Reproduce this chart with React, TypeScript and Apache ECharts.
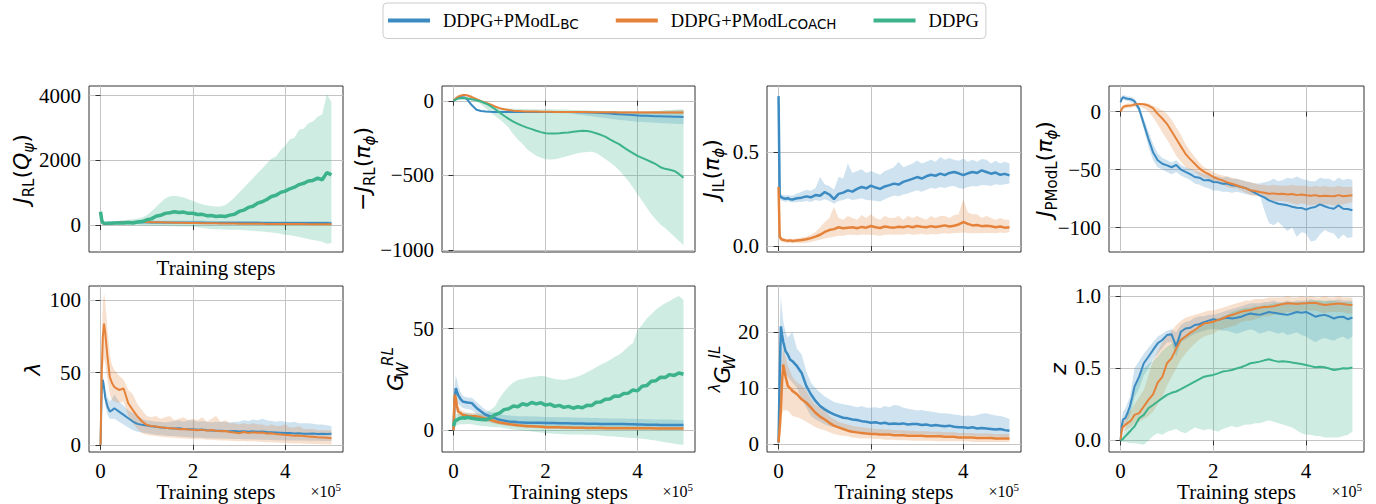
import React, { useEffect, useRef } from 'react';
import * as echarts from 'echarts';

const BLUE = '#3b8bc2';
const ORANGE = '#e5823a';
const GREEN = '#3cb38c';
const SERIF = 'Liberation Serif';
const SANS = 'DejaVu Sans';
const GRIDC = '#c4c4c4';
const FRAME = '#333333';

// Training steps (shared x grid)
const X = [0, 2500, 5000, 7500, 10000, 15000, 20000, 25000, 30000, 40000, 50000,
  60000, 70000, 80000, 90000, 100000, 110000, 120000, 130000, 140000, 150000,
  160000, 170000, 180000, 190000, 200000, 210000, 220000, 230000, 240000, 250000,
  260000, 270000, 280000, 290000, 300000, 310000, 320000, 330000, 340000, 350000,
  360000, 370000, 380000, 390000, 400000, 410000, 420000, 430000, 440000, 450000,
  460000, 470000, 480000, 490000, 500000];
const xTicks = [0, 200000, 400000];

// Panel 1: J_RL(Q_psi)
const p1YTicks = [0, 2000, 4000];
const p1GreenMean = [410, 160, 70, 55, 50, 52, 55, 58, 60, 62, 65,
  75, 65, 90, 105, 160, 190, 270, 300, 360, 380,
  410, 385, 400, 360, 365, 325, 330, 290, 295, 265,
  275, 265, 305, 330, 420, 460, 545, 580, 675, 720,
  790, 880, 920, 1010, 1050, 1120, 1170, 1250, 1290, 1360,
  1380, 1450, 1400, 1620, 1550];
const p1GreenHi = [440, 210, 120, 105, 100, 105, 110, 115, 120, 130, 145,
  160, 180, 200, 230, 300, 420, 560, 700, 820, 890,
  900, 880, 850, 800, 740, 690, 640, 610, 590, 575,
  570, 620, 720, 850, 1000, 1150, 1300, 1450, 1600, 1750,
  1900, 2050, 2120, 2320, 2450, 2650, 2700, 2950, 2980, 3150,
  3200, 3350, 3420, 4050, 3800];
const p1GreenLo = [380, 110, 30, 15, 10, 10, 10, 10, 10, 5, 0,
  -5, -5, -10, -10, -15, -20, -20, -25, -30, -35,
  -40, -45, -50, -50, -55, -70, -90, -110, -120, -130,
  -135, -140, -145, -150, -150, -160, -170, -180, -190, -200,
  -215, -230, -250, -270, -300, -320, -340, -370, -400, -430,
  -460, -490, -520, -580, -560];
const p1BlueMean = [400, 110, 60, 50, 50, 55, 60, 65, 70, 75, 80,
  82, 83, 83, 82, 82, 81, 80, 80, 79, 78,
  78, 77, 76, 76, 75, 74, 74, 73, 72, 72,
  71, 70, 70, 69, 68, 68, 67, 66, 66, 65,
  65, 64, 64, 63, 63, 62, 62, 61, 61, 60,
  60, 60, 59, 59, 58];
const p1BlueHi = [430, 160, 110, 100, 100, 105, 110, 115, 120, 125, 130,
  135, 135, 138, 140, 140, 138, 136, 135, 134, 133,
  132, 132, 131, 130, 130, 129, 128, 128, 127, 126,
  126, 125, 125, 124, 124, 123, 123, 122, 122, 121,
  121, 120, 120, 120, 119, 119, 118, 118, 118, 117,
  117, 117, 116, 116, 115];
const p1BlueLo = [370, 60, 10, 0, 0, 5, 10, 15, 20, 25, 30,
  29, 31, 28, 24, 24, 24, 24, 25, 24, 23,
  24, 22, 21, 22, 20, 19, 20, 18, 17, 18,
  16, 15, 15, 14, 12, 13, 11, 10, 10, 9,
  9, 8, 8, 6, 7, 5, 6, 4, 4, 3,
  3, 3, 2, 2, 1];
const p1OrangeMean = [400, 100, 50, 45, 45, 50, 55, 60, 65, 75, 85,
  90, 92, 93, 92, 90, 88, 85, 82, 79, 76,
  73, 70, 67, 64, 62, 60, 58, 56, 54, 52,
  50, 48, 46, 44, 42, 41, 40, 38, 37, 36,
  35, 34, 33, 32, 31, 30, 29, 28, 28, 27,
  26, 26, 25, 25, 24];
const p1OrangeHi = [430, 130, 70, 62, 62, 67, 72, 77, 82, 92, 102,
  107, 109, 110, 109, 107, 104, 101, 98, 95, 92,
  89, 86, 82, 79, 77, 75, 73, 71, 69, 67,
  65, 63, 61, 59, 57, 56, 55, 53, 52, 51,
  50, 49, 48, 47, 46, 45, 44, 43, 43, 42,
  41, 41, 40, 40, 39];
const p1OrangeLo = [370, 70, 30, 28, 28, 33, 38, 43, 48, 58, 68,
  73, 75, 76, 75, 73, 72, 69, 66, 63, 60,
  57, 54, 52, 49, 47, 45, 43, 41, 39, 37,
  35, 33, 31, 29, 27, 26, 25, 23, 22, 21,
  20, 19, 18, 17, 16, 15, 14, 13, 13, 12,
  11, 11, 10, 10, 9];

// Panel 2: -J_RL(pi_phi)
const p2YTicks = [-1000, -500, 0];
const p2GreenMean = [0, 4, 8, 12, 15, 17, 18, 17, 15, 10, 4,
  -5, -18, -34, -55, -78, -100, -121, -140, -155, -168,
  -180, -190, -201, -210, -217, -219, -219, -217, -214, -212,
  -208, -204, -201, -203, -208, -218, -228, -240, -258, -275,
  -290, -312, -332, -350, -369, -382, -396, -410, -425, -445,
  -456, -462, -470, -490, -515];
const p2GreenHi = [2, 8, 14, 18, 22, 26, 28, 28, 26, 20, 12,
  0, -15, -25, -35, -45, -50, -52, -53, -54, -55,
  -55, -56, -56, -56, -56, -57, -58, -58, -59, -60,
  -61, -62, -63, -64, -65, -66, -67, -68, -68, -69,
  -70, -71, -72, -73, -74, -75, -73, -70, -68, -66,
  -64, -62, -60, -58, -56];
const p2GreenLo = [-2, 0, 2, 6, 8, 8, 8, 6, 4, 0, -5,
  -25, -50, -78, -100, -123, -150, -180, -224, -260, -290,
  -324, -348, -369, -382, -391, -394, -391, -385, -377, -369,
  -360, -352, -347, -343, -342, -350, -369, -390, -412, -436,
  -465, -500, -537, -580, -626, -670, -715, -760, -795, -828,
  -852, -880, -910, -940, -966];
const p2BlueMean = [0, 6, 12, 17, 21, 25, 24, 20, 8, -30, -60,
  -68, -72, -74, -75, -75, -75, -75, -75, -75, -75,
  -75, -75, -75, -75, -75, -75, -76, -76, -76, -76,
  -76, -77, -77, -78, -79, -80, -82, -84, -86, -88,
  -90, -92, -94, -96, -98, -100, -101, -102, -103, -104,
  -105, -106, -107, -107, -108];
const p2BlueHi = [1, 8, 15, 21, 25, 29, 28, 24, 13, -24, -54,
  -63, -67, -69, -70, -70, -70, -71, -70, -70, -71,
  -70, -70, -71, -70, -70, -71, -70, -70, -71, -70,
  -70, -71, -70, -70, -71, -70, -70, -71, -70, -70,
  -71, -70, -70, -71, -70, -70, -70, -71, -70, -70,
  -70, -69, -69, -68, -68];
const p2BlueLo = [-1, 4, 9, 13, 17, 21, 20, 16, 3, -36, -66,
  -73, -77, -79, -80, -80, -80, -80, -80, -80, -80,
  -80, -80, -80, -80, -80, -81, -82, -83, -84, -85,
  -88, -92, -96, -100, -104, -108, -112, -116, -120, -124,
  -128, -131, -134, -137, -140, -142, -144, -146, -148, -150,
  -151, -152, -154, -155, -157];
const p2OrangeMean = [0, 8, 16, 22, 28, 34, 38, 38, 36, 25, 11,
  -3, -13, -24, -38, -49, -57, -62, -66, -68, -70,
  -71, -72, -72, -73, -74, -74, -75, -75, -75, -75,
  -76, -76, -76, -76, -77, -77, -77, -77, -77, -77,
  -78, -78, -78, -78, -78, -78, -78, -78, -78, -78,
  -78, -78, -78, -78, -78];
const p2OrangeHi = [1, 11, 20, 27, 34, 41, 46, 47, 45, 34, 19,
  4, -7, -18, -32, -43, -51, -57, -61, -63, -65,
  -66, -67, -67, -68, -69, -69, -70, -70, -70, -70,
  -71, -71, -71, -71, -71, -71, -71, -71, -71, -71,
  -71, -71, -71, -70, -70, -70, -70, -69, -69, -68,
  -67, -66, -64, -62, -60];
const p2OrangeLo = [-1, 5, 12, 17, 22, 27, 30, 29, 27, 16, 3,
  -10, -19, -30, -44, -55, -63, -67, -71, -73, -75,
  -76, -77, -77, -78, -79, -79, -80, -80, -80, -80,
  -81, -81, -81, -81, -82, -82, -82, -82, -82, -82,
  -83, -83, -83, -84, -84, -84, -85, -85, -85, -86,
  -86, -86, -87, -87, -87];

// Panel 3: J_IL(pi_phi)
const p3YTicks = [0, 0.5];
const p3BlueMean = [0.80, 0.27, 0.262, 0.258, 0.255, 0.252, 0.255, 0.25, 0.248, 0.255, 0.258,
  0.265, 0.26, 0.272, 0.268, 0.288, 0.275, 0.25, 0.278, 0.285, 0.297,
  0.29, 0.305, 0.315, 0.308, 0.322, 0.312, 0.305, 0.318, 0.325, 0.333,
  0.328, 0.342, 0.35, 0.358, 0.368, 0.36, 0.372, 0.38, 0.375, 0.386,
  0.378, 0.39, 0.395, 0.388, 0.378, 0.388, 0.395, 0.39, 0.404, 0.395,
  0.386, 0.392, 0.38, 0.385, 0.377];
const p3BlueHi = [0.80, 0.29, 0.28, 0.275, 0.272, 0.27, 0.272, 0.27, 0.268, 0.28, 0.29,
  0.30, 0.295, 0.31, 0.368, 0.33, 0.32, 0.30, 0.368, 0.36, 0.44,
  0.39, 0.40, 0.41, 0.39, 0.40, 0.39, 0.38, 0.40, 0.41, 0.42,
  0.45, 0.42, 0.43, 0.44, 0.457, 0.44, 0.45, 0.46, 0.45, 0.475,
  0.46, 0.47, 0.46, 0.455, 0.466, 0.45, 0.46, 0.45, 0.465, 0.46,
  0.44, 0.455, 0.44, 0.45, 0.44];
const p3BlueLo = [0.26, 0.25, 0.245, 0.24, 0.24, 0.235, 0.24, 0.235, 0.232, 0.235, 0.235,
  0.24, 0.235, 0.245, 0.24, 0.25, 0.24, 0.225, 0.24, 0.245, 0.253,
  0.245, 0.25, 0.255, 0.245, 0.244, 0.24, 0.238, 0.25, 0.26, 0.27,
  0.265, 0.275, 0.28, 0.29, 0.297, 0.29, 0.30, 0.31, 0.305, 0.315,
  0.31, 0.318, 0.32, 0.31, 0.306, 0.315, 0.32, 0.318, 0.325, 0.324,
  0.32, 0.33, 0.325, 0.33, 0.333];
const p3OrangeMean = [0.315, 0.05, 0.04, 0.035, 0.033, 0.03, 0.028, 0.03, 0.027, 0.03, 0.032,
  0.036, 0.042, 0.05, 0.06, 0.075, 0.085, 0.09, 0.10, 0.095, 0.098,
  0.10, 0.095, 0.102, 0.098, 0.107, 0.10, 0.096, 0.104, 0.10, 0.098,
  0.103, 0.10, 0.106, 0.10, 0.107, 0.103, 0.10, 0.106, 0.102, 0.105,
  0.11, 0.104, 0.108, 0.115, 0.128, 0.118, 0.11, 0.112, 0.106, 0.108,
  0.105, 0.10, 0.104, 0.098, 0.10];
const p3OrangeHi = [0.32, 0.06, 0.05, 0.045, 0.043, 0.04, 0.038, 0.04, 0.037, 0.04, 0.045,
  0.05, 0.06, 0.075, 0.10, 0.128, 0.15, 0.21, 0.15, 0.14, 0.16,
  0.15, 0.14, 0.165, 0.15, 0.17, 0.15, 0.14, 0.16, 0.15, 0.15,
  0.16, 0.14, 0.16, 0.15, 0.16, 0.15, 0.14, 0.16, 0.15, 0.16,
  0.16, 0.15, 0.165, 0.17, 0.25, 0.18, 0.17, 0.17, 0.15, 0.16,
  0.15, 0.14, 0.15, 0.14, 0.14];
const p3OrangeLo = [0.30, 0.03, 0.025, 0.022, 0.02, 0.018, 0.016, 0.017, 0.015, 0.016, 0.015,
  0.018, 0.022, 0.028, 0.033, 0.04, 0.045, 0.05, 0.055, 0.055, 0.06,
  0.06, 0.058, 0.062, 0.06, 0.06, 0.058, 0.055, 0.06, 0.062, 0.06,
  0.062, 0.06, 0.065, 0.06, 0.062, 0.065, 0.06, 0.064, 0.062, 0.065,
  0.068, 0.065, 0.07, 0.07, 0.072, 0.07, 0.068, 0.07, 0.068, 0.07,
  0.07, 0.068, 0.072, 0.07, 0.075];

// Panel 4: J_PModL(pi_phi)
const p4YTicks = [-100, -50, 0];
const p4BlueMean = [8, 11, 12.3, 12, 11.5, 11, 10.9, 10, 8.9, 2.3, -10.6,
  -23.5, -35, -42, -45, -46.4, -48, -46, -50, -52, -54,
  -56.4, -57, -59.3, -59, -60.7, -61, -62.2, -62, -63.6, -64,
  -65, -66, -67.9, -70, -72.2, -74, -76.5, -78, -79.4, -80,
  -80.8, -82, -82.8, -83, -84.5, -83, -82.2, -80, -81.6, -83,
  -83.7, -80.8, -83.7, -84, -85];
const p4BlueHi = [10, 13, 14, 14, 13.5, 13, 13, 12, 11, 5, -6,
  -17, -28, -36, -40, -42, -44, -42, -46, -48, -49,
  -51, -52, -54, -54, -55, -56, -57, -56, -58, -58,
  -59, -60, -61, -62, -62, -61, -60, -58, -60, -59,
  -57, -58, -56, -58, -59, -60, -60, -57, -58, -58,
  -60, -57, -59, -58, -59];
const p4BlueLo = [6, 9, 10, 10, 9.5, 9, 8.5, 7.5, 6, -1, -15,
  -30, -42, -48, -50, -52, -54, -52, -55, -57, -59,
  -62, -63, -65, -66, -68, -68, -69, -69, -70, -69,
  -70, -71, -72, -72, -72, -85, -96, -98, -95, -99,
  -103, -100, -108, -104, -105, -112, -111, -106, -102, -104,
  -105, -110, -106, -109, -108];
const p4OrangeMean = [0, 2, 3.7, 4.3, 4.6, 5, 5.2, 5.5, 6, 6.6, 6.2,
  5.2, 3, -2, -6, -10.6, -17, -23.5, -30, -36.4, -41,
  -45, -49, -52, -54, -56.4, -58, -59.3, -61, -62.2, -63.5,
  -65, -66, -67.9, -68.5, -69.3, -70, -70.8, -70.5, -71, -70.8,
  -71.5, -71, -72, -71.5, -72.2, -72.5, -72, -73, -72.5, -72.8,
  -73, -72, -73, -72.5, -72.2];
const p4OrangeHi = [1, 3.5, 5.5, 6, 6.5, 7, 7, 7, 7.2, 7.5, 7.5,
  7, 5, 3, 1, -2, -7, -13.5, -20, -28, -34,
  -39, -44, -48, -50, -52, -54, -55, -56, -57, -58,
  -59, -60, -61, -62, -63, -63, -64, -63, -64, -64,
  -64, -63, -64, -64, -64, -65, -64, -65, -64, -65,
  -65, -64, -65, -65, -65];
const p4OrangeLo = [-1, 0.5, 2, 2.5, 2.8, 3, 3.3, 3.5, 4, 4.5, 3,
  0, -5, -11, -18, -24, -31, -38, -43, -48, -50,
  -52, -55, -57, -58, -60, -62, -63, -65, -66, -66,
  -68, -70, -72, -73, -73, -74, -76, -77, -77, -77,
  -78, -79, -80, -79, -80, -81, -80, -81, -80, -80,
  -81, -80, -80, -79, -78];

// Panel 5: lambda
const p5YTicks = [0, 50, 100];
const p5OrangeMean = [0, 50, 75, 84, 78, 61, 47, 42.6, 40, 38, 39,
  28.8, 24, 19.6, 16.1, 13.8, 13, 12.7, 12.2, 11.8, 11.5,
  11.2, 10.8, 11, 10.6, 10.4, 10, 10.5, 9.8, 10.2, 9.7,
  9.3, 9.6, 8.8, 8.5, 8, 8.8, 8.2, 8.6, 8.3, 8.5,
  7.8, 8, 7.4, 7.2, 6.9, 6.6, 6.3, 6.5, 6, 5.8,
  5.5, 5.2, 5, 4.8, 4.6];
const p5OrangeHi = [0, 70, 98, 105, 100, 80, 62, 55, 52, 48, 45,
  38, 35, 28, 24, 20, 19, 20, 18, 19, 20,
  17, 18, 19, 17, 18, 17, 19, 16, 18, 20,
  16, 17, 15, 15, 14, 15, 14, 15, 14, 14,
  13, 14, 13, 13, 14, 12, 12, 13, 11, 11,
  11, 10, 10, 10, 10];
const p5OrangeLo = [0, 30, 52, 60, 56, 45, 35, 31, 30, 29, 30,
  20, 15, 11, 8, 7, 6.5, 6, 5.5, 5.2, 5,
  4.8, 4.5, 4.4, 4.2, 4, 3.8, 4, 3.5, 3.5, 3.2,
  3, 3, 2.8, 2.6, 2.5, 2.6, 2.3, 2.4, 2.2, 2,
  1.8, 1.8, 1.6, 1.4, 1.2, 1, 0.9, 1, 0.8, 0.7,
  0.6, 0.5, 0.4, 0.3, 0.2];
const p5BlueMean = [0, 38, 45, 40, 33, 26.5, 23, 24, 25.3, 23, 20.7,
  18.4, 16.1, 14.5, 13.8, 13.4, 12.8, 12.5, 12, 11.8, 11.5,
  11.2, 11.4, 11, 10.8, 10.8, 10.4, 10.6, 10.1, 9.9, 9.7,
  9.8, 9.5, 9.4, 9.6, 9.2, 9.4, 9.1, 9.3, 9, 9.2,
  8.8, 8.7, 8.5, 8.3, 8.1, 8.2, 7.9, 8, 7.7, 7.6,
  7.8, 7.5, 7.7, 7.5, 7.6];
const p5BlueHi = [0, 42, 48, 44, 38, 33, 30, 32, 34.6, 30, 27,
  24, 22, 20, 18, 17, 16.5, 16, 16, 15.5, 16,
  16.5, 17, 16, 17, 17, 16, 16.5, 16, 15.5, 16,
  15.8, 16, 15.5, 16, 16, 17, 16.5, 17.5, 17, 18,
  17, 16.5, 16, 16.5, 16, 15.5, 16, 15, 15, 15,
  14.5, 14, 14, 13.5, 13];
const p5BlueLo = [0, 34, 40, 35, 28, 21, 18, 18, 18, 16, 14,
  12, 10, 9, 8.5, 8, 7.5, 7, 6.8, 6.5, 6,
  6, 5.8, 5.5, 5.3, 5, 5, 4.8, 4.6, 4.5, 4.4,
  4.3, 4.2, 4.1, 4, 4, 3.9, 3.8, 3.7, 3.6, 3.5,
  3.4, 3.3, 3.2, 3.1, 3, 3, 3, 2.9, 2.9, 2.8,
  2.8, 2.8, 2.7, 2.7, 2.7];

// Panel 6: G_W^RL
const p6YTicks = [0, 50];
const p6GreenMean = [2, 4, 5.2, 5, 5.5, 6, 6.2, 6, 6.5, 6, 5.6,
  5.4, 5.2, 6, 7.7, 8.5, 10.2, 10.6, 12.0, 11.6, 13.1,
  12.5, 13.7, 13.0, 13.6, 12.4, 12.9, 11.8, 12.3, 11.3, 11.8,
  10.9, 11.6, 11.1, 12.3, 12.2, 13.8, 13.9, 15.3, 15.4, 16.9,
  16.8, 18.1, 18.3, 19.8, 19.4, 21.7, 22.0, 24.1, 24.4, 26.1,
  26.0, 27.4, 27.0, 28.2, 27.6];
const p6GreenHi = [3, 6, 8, 8, 8, 8.5, 8.5, 8.5, 8.5, 8.2, 8,
  8, 8.5, 10, 11.8, 15.8, 19, 21.6, 23.5, 24.8, 25.3,
  25.7, 26.2, 26.5, 26.8, 26.5, 25.8, 25.3, 25, 24.8, 25.2,
  25.7, 26.5, 27.3, 28.5, 29.7, 31, 32.2, 33.4, 34.6, 36,
  37.1, 39, 41.2, 42.8, 49.3, 51.8, 55, 57, 59.2, 61,
  62.4, 63.5, 64.9, 66, 64];
const p6GreenLo = [1, 1.5, 2, 2.5, 2.8, 3, 3, 3, 3.2, 3, 2.5,
  2.2, 2, 1.8, 1.6, 1.5, 1.2, 0.8, 0.5, 0.2, 0,
  -0.2, -0.5, -0.8, -1, -1.3, -1.5, -1.6, -1.8, -1.9, -2,
  -2, -2, -2, -2.1, -2.1, -2.3, -2.5, -2.7, -2.9, -3,
  -3.2, -3.4, -3.6, -3.7, -3.8, -4.1, -4.4, -4.7, -5, -5.4,
  -5.8, -6.2, -6.6, -6.9, -7];
const p6BlueMean = [0, 15, 20.8, 19, 17.5, 15.5, 14.2, 13.9, 13.7, 13.4, 11,
  9.3, 7.7, 6.9, 6, 5.2, 4.8, 4.4, 4.2, 4, 3.9,
  3.8, 3.8, 3.7, 3.7, 3.6, 3.6, 3.6, 3.5, 3.5, 3.5,
  3.4, 3.4, 3.4, 3.3, 3.3, 3.3, 3.2, 3.2, 3.2, 3.1,
  3.1, 3.1, 3.0, 3.0, 2.9, 2.9, 2.8, 2.8, 2.8, 2.7,
  2.7, 2.7, 2.6, 2.6, 2.6];
const p6BlueHi = [0, 22, 27, 25, 22, 19, 17, 16.5, 16.2, 16, 14,
  12, 10, 9, 8.5, 8, 7.6, 7.3, 7.2, 7, 7,
  6.9, 6.8, 6.8, 6.7, 6.6, 6.6, 6.5, 6.5, 6.4, 6.4,
  6.3, 6.3, 6.2, 6.2, 6.1, 6.1, 6.0, 6.0, 5.9, 5.9,
  5.8, 5.8, 5.7, 5.7, 5.6, 5.6, 5.5, 5.5, 5.4, 5.4,
  5.3, 5.3, 5.2, 5.1, 5.0];
const p6BlueLo = [0, 9, 14, 13.5, 13, 12, 11, 10.8, 10.5, 10, 8,
  6.5, 5, 4.2, 3.5, 3, 2.7, 2.4, 2.2, 2.1, 2,
  1.9, 1.8, 1.8, 1.7, 1.6, 1.6, 1.5, 1.5, 1.4, 1.4,
  1.3, 1.3, 1.2, 1.2, 1.1, 1.1, 1.0, 1.0, 1.0, 0.9,
  0.9, 0.9, 0.8, 0.8, 0.8, 0.7, 0.7, 0.7, 0.6, 0.6,
  0.6, 0.5, 0.5, 0.5, 0.5];
const p6OrangeMean = [0, 17.5, 15.8, 12, 9.3, 8.5, 7.7, 7.4, 7.2, 7, 6.9,
  6.4, 5.8, 5.2, 4.5, 3.9, 3.5, 3.1, 2.8, 2.5, 2.3,
  2.1, 2.0, 1.9, 1.8, 1.6, 1.6, 1.5, 1.5, 1.4, 1.4,
  1.3, 1.3, 1.3, 1.2, 1.2, 1.2, 1.2, 1.1, 1.1, 1.1,
  1.1, 1.1, 1.0, 1.0, 1.0, 1.0, 1.0, 1.0, 0.9, 0.9,
  0.9, 0.9, 0.9, 0.9, 0.9];
const p6OrangeHi = [0, 20, 18.5, 14.5, 12, 10.5, 9.5, 9, 8.8, 8.6, 8.5,
  8, 7.3, 6.5, 5.7, 5, 4.5, 4, 3.7, 3.4, 3.1,
  2.9, 2.8, 2.7, 2.6, 2.5, 2.4, 2.3, 2.3, 2.2, 2.2,
  2.1, 2.1, 2.1, 2.0, 2.0, 2.0, 2.0, 1.9, 1.9, 1.9,
  1.9, 1.9, 1.8, 1.8, 1.8, 1.8, 1.8, 1.8, 1.7, 1.7,
  1.7, 1.7, 1.7, 1.7, 1.7];
const p6OrangeLo = [0, 14, 13, 9.5, 7, 6.5, 6, 5.8, 5.6, 5.5, 5.4,
  4.9, 4.3, 3.8, 3.3, 2.9, 2.5, 2.2, 1.9, 1.6, 1.4,
  1.3, 1.2, 1.1, 1.0, 0.8, 0.8, 0.7, 0.7, 0.6, 0.6,
  0.6, 0.5, 0.5, 0.5, 0.5, 0.5, 0.5, 0.4, 0.4, 0.4,
  0.4, 0.4, 0.4, 0.4, 0.3, 0.3, 0.3, 0.3, 0.3, 0.3,
  0.3, 0.3, 0.3, 0.3, 0.3];

// Panel 7: lambda G_W^IL
const p7YTicks = [0, 10, 20];
const p7BlueMean = [0.3, 12, 21, 19.5, 18.3, 16.6, 16, 15.1, 14.8, 13.9, 12.7,
  10.4, 8.9, 7.7, 6.8, 6.2, 5.7, 5.3, 5.0, 4.7, 4.6,
  4.4, 4.3, 4.1, 4.0, 3.8, 3.9, 3.7, 3.8, 3.6, 3.7,
  3.6, 3.7, 3.5, 3.6, 3.6, 3.4, 3.5, 3.3, 3.4, 3.3,
  3.2, 3.3, 3.1, 3.0, 3.0, 2.9, 3.0, 2.8, 2.9, 2.8,
  2.7, 2.6, 2.7, 2.5, 2.4];
const p7BlueHi = [0.5, 20, 26.5, 24, 22, 20, 19, 19.5, 20, 17, 16,
  13, 11, 10, 9.2, 8.5, 8, 7.5, 7.3, 7.1, 7,
  6.8, 6.6, 6.8, 6.5, 6.5, 6.6, 6.4, 6.8, 6.6, 7,
  6.9, 6.5, 6.3, 6.2, 6, 6.1, 5.9, 5.8, 5.7, 5.5,
  5.5, 5.4, 5.3, 5.2, 5, 5.1, 5.0, 5.2, 5.4, 5.5,
  5.3, 5.1, 5.0, 4.8, 4.5];
const p7BlueLo = [0.1, 6, 14, 13.5, 13, 12.5, 12, 11.5, 11, 10, 8,
  6.5, 5, 4.4, 4, 3.5, 3.2, 3, 2.8, 2.6, 2.5,
  2.4, 2.3, 2.2, 2.1, 2, 2, 2, 1.9, 1.9, 1.9,
  1.9, 1.8, 1.8, 1.8, 1.8, 1.7, 1.7, 1.7, 1.7, 1.6,
  1.6, 1.6, 1.6, 1.5, 1.5, 1.5, 1.5, 1.4, 1.4, 1.4,
  1.3, 1.3, 1.3, 1.2, 1.2];
const p7OrangeMean = [0.3, 3, 6.2, 11, 14.2, 12.1, 10.4, 10, 9.5, 8.9, 8,
  7.4, 6.5, 5.6, 4.9, 4.4, 3.8, 3.3, 3.0, 2.7, 2.4,
  2.2, 2.1, 2.0, 1.9, 1.8, 1.8, 1.7, 1.7, 1.7, 1.6,
  1.6, 1.6, 1.5, 1.5, 1.5, 1.5, 1.4, 1.4, 1.4, 1.4,
  1.3, 1.3, 1.3, 1.2, 1.2, 1.2, 1.2, 1.1, 1.1, 1.1,
  1.1, 1.0, 1.0, 1.0, 1.0];
const p7OrangeHi = [0.4, 5, 10, 14.5, 17, 15.5, 14, 13, 12, 11, 10.5,
  9.5, 8, 7, 6.5, 6, 5, 4.5, 4, 3.7, 3.5,
  3.3, 3.1, 3.0, 2.9, 2.8, 2.7, 2.7, 2.6, 2.6, 2.5,
  2.5, 2.5, 2.4, 2.4, 2.3, 2.3, 2.3, 2.2, 2.2, 2.2,
  2.1, 2.1, 2.1, 2.0, 2.0, 2.0, 2.0, 1.9, 1.9, 1.9,
  1.9, 1.8, 1.8, 1.8, 1.8];
const p7OrangeLo = [0.2, 1, 2, 5, 6, 6, 6, 5.5, 5, 4.8, 4.5,
  4, 3.5, 3, 2.7, 2.5, 2.1, 1.8, 1.6, 1.5, 1.4,
  1.2, 1.1, 1.0, 1.0, 1.0, 0.9, 0.9, 0.8, 0.8, 0.8,
  0.7, 0.7, 0.7, 0.6, 0.6, 0.6, 0.6, 0.6, 0.5, 0.5,
  0.5, 0.5, 0.5, 0.5, 0.5, 0.5, 0.4, 0.4, 0.4, 0.4,
  0.4, 0.4, 0.4, 0.4, 0.4];

// Panel 8: z
const p8YTicks = [0, 0.5, 1];
const p8BlueMean = [0, 0.1, 0.143, 0.15, 0.154, 0.19, 0.235, 0.3, 0.373, 0.442, 0.535,
  0.58, 0.627, 0.673, 0.696, 0.73, 0.735, 0.65, 0.753, 0.776, 0.78,
  0.8, 0.805, 0.82, 0.83, 0.84, 0.835, 0.845, 0.85, 0.845, 0.85,
  0.857, 0.87, 0.88, 0.875, 0.87, 0.88, 0.89, 0.885, 0.88, 0.875,
  0.87, 0.88, 0.89, 0.885, 0.89, 0.875, 0.857, 0.865, 0.87, 0.86,
  0.845, 0.855, 0.857, 0.84, 0.852];
const p8BlueHi = [0, 0.15, 0.2, 0.21, 0.22, 0.26, 0.3, 0.4, 0.5, 0.55, 0.6,
  0.64, 0.68, 0.72, 0.74, 0.76, 0.77, 0.75, 0.8, 0.82, 0.83,
  0.85, 0.86, 0.86, 0.87, 0.87, 0.88, 0.89, 0.9, 0.91, 0.92,
  0.93, 0.94, 0.95, 0.95, 0.95, 0.96, 0.96, 0.97, 0.96, 0.96,
  0.97, 0.96, 0.97, 0.97, 0.97, 0.98, 0.97, 0.97, 0.96, 0.97,
  0.97, 0.98, 0.97, 0.97, 0.97];
const p8BlueLo = [0, 0.05, 0.08, 0.09, 0.1, 0.14, 0.18, 0.23, 0.3, 0.36, 0.45,
  0.5, 0.56, 0.6, 0.64, 0.68, 0.68, 0.58, 0.68, 0.7, 0.72,
  0.74, 0.75, 0.76, 0.77, 0.77, 0.77, 0.76, 0.76, 0.75, 0.74,
  0.75, 0.76, 0.77, 0.76, 0.74, 0.75, 0.76, 0.75, 0.74, 0.75,
  0.73, 0.74, 0.75, 0.73, 0.72, 0.7, 0.68, 0.7, 0.71, 0.7,
  0.69, 0.71, 0.72, 0.7, 0.72];
const p8OrangeMean = [0, 0.07, 0.097, 0.1, 0.108, 0.12, 0.131, 0.15, 0.177, 0.189, 0.235,
  0.281, 0.32, 0.40, 0.44, 0.535, 0.57, 0.638, 0.696, 0.72, 0.745,
  0.765, 0.79, 0.81, 0.815, 0.822, 0.835, 0.845, 0.86, 0.869, 0.88,
  0.892, 0.898, 0.903, 0.912, 0.92, 0.925, 0.926, 0.93, 0.938, 0.945,
  0.95, 0.948, 0.945, 0.948, 0.95, 0.952, 0.954, 0.945, 0.938, 0.942,
  0.945, 0.948, 0.945, 0.94, 0.938];
const p8OrangeHi = [0, 0.1, 0.13, 0.14, 0.15, 0.18, 0.2, 0.22, 0.25, 0.3, 0.35,
  0.45, 0.55, 0.62, 0.68, 0.72, 0.76, 0.8, 0.83, 0.85, 0.86,
  0.87, 0.88, 0.89, 0.9, 0.9, 0.91, 0.92, 0.93, 0.94, 0.95,
  0.96, 0.97, 0.97, 0.98, 0.98, 0.98, 0.99, 0.99, 0.99, 0.99,
  1.0, 0.99, 0.99, 1.0, 0.99, 1.0, 0.99, 0.99, 1.0, 0.99,
  0.99, 1.0, 0.99, 0.99, 0.99];
const p8OrangeLo = [0, 0.04, 0.06, 0.065, 0.07, 0.08, 0.09, 0.1, 0.12, 0.13, 0.15,
  0.17, 0.2, 0.25, 0.3, 0.38, 0.44, 0.5, 0.56, 0.6, 0.64,
  0.67, 0.7, 0.72, 0.73, 0.74, 0.76, 0.77, 0.78, 0.79, 0.8,
  0.82, 0.83, 0.83, 0.84, 0.85, 0.86, 0.86, 0.87, 0.88, 0.88,
  0.89, 0.89, 0.89, 0.9, 0.9, 0.9, 0.9, 0.89, 0.88, 0.89,
  0.89, 0.89, 0.89, 0.88, 0.88];
const p8GreenMean = [0, 0.003, 0.01, 0.02, 0.028, 0.045, 0.062, 0.08, 0.097, 0.154, 0.177,
  0.223, 0.246, 0.27, 0.293, 0.316, 0.33, 0.339, 0.355, 0.373, 0.39,
  0.408, 0.425, 0.442, 0.448, 0.454, 0.465, 0.477, 0.482, 0.488, 0.498,
  0.507, 0.52, 0.535, 0.54, 0.546, 0.555, 0.562, 0.553, 0.546, 0.548,
  0.546, 0.54, 0.535, 0.53, 0.523, 0.515, 0.507, 0.51, 0.507, 0.498,
  0.488, 0.493, 0.5, 0.498, 0.505];
const p8GreenHi = [0, 0.02, 0.04, 0.06, 0.08, 0.16, 0.25, 0.3, 0.35, 0.45, 0.5,
  0.53, 0.55, 0.58, 0.62, 0.65, 0.67, 0.69, 0.71, 0.73, 0.75,
  0.77, 0.79, 0.8, 0.81, 0.82, 0.84, 0.86, 0.87, 0.89, 0.9,
  0.91, 0.92, 0.92, 0.93, 0.93, 0.94, 0.94, 0.95, 0.95, 0.95,
  0.96, 0.96, 0.96, 0.96, 0.96, 0.97, 0.97, 0.97, 0.97, 0.97,
  0.97, 0.96, 0.96, 0.96, 0.96];
const p8GreenLo = [0, -0.005, -0.01, -0.01, -0.01, -0.015, -0.02, -0.02, -0.02, -0.025, -0.03,
  0.0, 0.03, 0.05, 0.04, 0.06, 0.07, 0.08, 0.06, 0.05, 0.07,
  0.09, 0.08, 0.07, 0.08, 0.07, 0.06, 0.08, 0.09, 0.1, 0.09,
  0.1, 0.11, 0.11, 0.12, 0.12, 0.13, 0.14, 0.13, 0.12, 0.11,
  0.1, 0.09, 0.07, 0.05, 0.04, 0.04, 0.03, 0.03, 0.02, 0.02,
  0.02, 0.02, 0.03, 0.04, 0.06];

const legendNames = ['BC', 'COACH', 'DDPG'];

type LineDef = { name: string; color: string; mean: number[]; lo: number[]; hi: number[]; w?: number };
type Panel = { col: number; row: number; yMin: number; yMax: number; ticks: number[]; dec: number; label: string; lx: number; lines: LineDef[] };

const colLeft = [89, 442, 767, 1109];
const colWidth = [254, 253, 254, 255];
const rowTop = [86, 286];
const ROW_H = 166;

const panels: Panel[] = [
  { col: 0, row: 0, yMin: -835, yMax: 4300, ticks: p1YTicks, dec: 0, lx: 21,
    label: '{it|J}{sub|RL}{rm|(}{it|Q}{subit|ψ}{rm|)}',
    lines: [
      { name: 'BC', color: BLUE, mean: p1BlueMean, lo: p1BlueLo, hi: p1BlueHi },
      { name: 'COACH', color: ORANGE, mean: p1OrangeMean, lo: p1OrangeLo, hi: p1OrangeHi },
      { name: 'DDPG', color: GREEN, mean: p1GreenMean, lo: p1GreenLo, hi: p1GreenHi, w: 3.5 },
    ] },
  { col: 1, row: 0, yMin: -1013, yMax: 99, ticks: p2YTicks, dec: 0, lx: 362,
    label: '{rm|−}{it|J}{sub|RL}{rm|(}{it|π}{subit|ϕ}{rm|)}',
    lines: [
      { name: 'BC', color: BLUE, mean: p2BlueMean, lo: p2BlueLo, hi: p2BlueHi },
      { name: 'COACH', color: ORANGE, mean: p2OrangeMean, lo: p2OrangeLo, hi: p2OrangeHi },
      { name: 'DDPG', color: GREEN, mean: p2GreenMean, lo: p2GreenLo, hi: p2GreenHi },
    ] },
  { col: 2, row: 0, yMin: -0.032, yMax: 0.854, ticks: p3YTicks, dec: 1, lx: 711,
    label: '{it|J}{sub|IL}{rm|(}{it|π}{subit|ϕ}{rm|)}',
    lines: [
      { name: 'BC', color: BLUE, mean: p3BlueMean, lo: p3BlueLo, hi: p3BlueHi, w: 2.5 },
      { name: 'COACH', color: ORANGE, mean: p3OrangeMean, lo: p3OrangeLo, hi: p3OrangeHi, w: 2.5 },
    ] },
  { col: 3, row: 0, yMin: -121, yMax: 22, ticks: p4YTicks, dec: 0, lx: 1044,
    label: '{it|J}{sub|PModL}{rm|(}{it|π}{subit|ϕ}{rm|)}',
    lines: [
      { name: 'BC', color: BLUE, mean: p4BlueMean, lo: p4BlueLo, hi: p4BlueHi },
      { name: 'COACH', color: ORANGE, mean: p4OrangeMean, lo: p4OrangeLo, hi: p4OrangeHi },
    ] },
  { col: 0, row: 1, yMin: -5, yMax: 110, ticks: p5YTicks, dec: 0, lx: 32,
    label: '{it|λ}',
    lines: [
      { name: 'BC', color: BLUE, mean: p5BlueMean, lo: p5BlueLo, hi: p5BlueHi },
      { name: 'COACH', color: ORANGE, mean: p5OrangeMean, lo: p5OrangeLo, hi: p5OrangeHi },
    ] },
  { col: 1, row: 1, yMin: -10.6, yMax: 70.9, ticks: p6YTicks, dec: 0, lx: 395,
    label: '{it|G}{subitN|W}{supit|RL}',
    lines: [
      { name: 'BC', color: BLUE, mean: p6BlueMean, lo: p6BlueLo, hi: p6BlueHi, w: 2.5 },
      { name: 'COACH', color: ORANGE, mean: p6OrangeMean, lo: p6OrangeLo, hi: p6OrangeHi, w: 2.5 },
      { name: 'DDPG', color: GREEN, mean: p6GreenMean, lo: p6GreenLo, hi: p6GreenHi, w: 3.5 },
    ] },
  { col: 2, row: 1, yMin: -1.4, yMax: 28.2, ticks: p7YTicks, dec: 0, lx: 722,
    label: '{supit|λ}{it|G}{subitN|W}{supit|IL}',
    lines: [
      { name: 'BC', color: BLUE, mean: p7BlueMean, lo: p7BlueLo, hi: p7BlueHi, w: 2.5 },
      { name: 'COACH', color: ORANGE, mean: p7OrangeMean, lo: p7OrangeLo, hi: p7OrangeHi, w: 2.5 },
    ] },
  { col: 3, row: 1, yMin: -0.08, yMax: 1.07, ticks: p8YTicks, dec: 1, lx: 1058,
    label: '{it|z}',
    lines: [
      { name: 'BC', color: BLUE, mean: p8BlueMean, lo: p8BlueLo, hi: p8BlueHi },
      { name: 'COACH', color: ORANGE, mean: p8OrangeMean, lo: p8OrangeLo, hi: p8OrangeHi },
      { name: 'DDPG', color: GREEN, mean: p8GreenMean, lo: p8GreenLo, hi: p8GreenHi },
    ] },
];

const labelRich: any = {
  it: { fontFamily: SANS, fontStyle: 'italic', fontSize: 22, fill: '#000', lineHeight: 30 },
  rm: { fontFamily: SANS, fontSize: 22, fill: '#000', lineHeight: 30 },
  sub: { fontFamily: SANS, fontSize: 15, fill: '#000', verticalAlign: 'bottom', lineHeight: 18 },
  subit: { fontFamily: SANS, fontStyle: 'italic', fontSize: 15, fill: '#000', verticalAlign: 'bottom', lineHeight: 18 },
  subitN: { fontFamily: SANS, fontStyle: 'italic', fontSize: 15, fill: '#000', verticalAlign: 'bottom', lineHeight: 18, width: 8 },
  supit: { fontFamily: SANS, fontStyle: 'italic', fontSize: 15, fill: '#000', verticalAlign: 'top', lineHeight: 18 },
};

function fmtTick(v: number, dec: number) {
  const s = Math.abs(v).toFixed(dec);
  return v < 0 ? '−' + s : s;
}

function buildOption() {
  const grid = panels.map((p) => ({
    left: colLeft[p.col], top: rowTop[p.row], width: colWidth[p.col], height: ROW_H,
    show: true, borderColor: FRAME, borderWidth: 1, backgroundColor: 'rgba(0,0,0,0)',
  }));
  const xAxis = panels.map((p, i) => ({
    type: 'value', gridIndex: i, min: -25000, max: 525000,
    axisLine: { show: false },
    axisTick: { show: true, length: 5, lineStyle: { color: FRAME, width: 1 }, customValues: xTicks },
    axisLabel: {
      show: p.row === 1, customValues: xTicks, formatter: (v: number) => String(v / 100000),
      fontFamily: SERIF, fontSize: 21, color: '#000', margin: 8,
    },
    splitLine: { show: true, lineStyle: { color: GRIDC, width: 1 } },
    name: p.row === 1 || i === 0 ? 'Training steps' : '',
    nameLocation: 'middle', nameGap: p.row === 1 ? 40 : 16,
    nameTextStyle: { fontFamily: SERIF, fontSize: 21, color: '#000', verticalAlign: 'middle' },
  }));
  const yAxis = panels.map((p, i) => ({
    type: 'value', gridIndex: i, min: p.yMin, max: p.yMax,
    axisLine: { show: false },
    axisTick: { show: true, length: 5, lineStyle: { color: FRAME, width: 1 }, customValues: p.ticks },
    axisLabel: {
      customValues: p.ticks, formatter: (v: number) => fmtTick(v, p.dec),
      fontFamily: SERIF, fontSize: 21, color: '#000', margin: 8,
    },
    splitLine: { show: true, lineStyle: { color: GRIDC, width: 1 } },
  }));

  const bands: any[] = [];
  const lines: any[] = [];
  panels.forEach((p, i) => {
    p.lines.forEach((l) => {
      bands.push({
        type: 'custom', xAxisIndex: i, yAxisIndex: i, silent: true, z: 1,
        data: [[X[0], l.mean[0]]],
        renderItem: (_params: any, api: any) => {
          const pts: number[][] = [];
          for (let k = 0; k < X.length; k++) pts.push(api.coord([X[k], l.hi[k]]));
          for (let k = X.length - 1; k >= 0; k--) pts.push(api.coord([X[k], l.lo[k]]));
          return { type: 'polygon', shape: { points: pts }, style: { fill: l.color, opacity: 0.25 } };
        },
      });
      lines.push({
        type: 'line', name: l.name, xAxisIndex: i, yAxisIndex: i, z: 3,
        data: X.map((x, k) => [x, l.mean[k]]),
        showSymbol: false, symbol: 'none', clip: true,
        lineStyle: { color: l.color, width: l.w ?? 2 },
        itemStyle: { color: l.color },
      });
    });
  });

  const graphic: any[] = panels.map((p) => ({
    type: 'text', x: p.lx, y: rowTop[p.row] + ROW_H / 2, rotation: Math.PI / 2, silent: true,
    style: { text: p.label, rich: labelRich, align: 'center', verticalAlign: 'middle', textAlign: 'center', textVerticalAlign: 'middle' },
  }));
  [0, 1, 2, 3].forEach((c) => {
    graphic.push({
      type: 'text', x: colLeft[c] + colWidth[c] - 2, y: 491, silent: true,
      style: {
        text: '{a|×10}{b|5}', align: 'right', verticalAlign: 'middle', textAlign: 'right', textVerticalAlign: 'middle',
        rich: {
          a: { fontFamily: SERIF, fontSize: 16, fill: '#000', lineHeight: 20 },
          b: { fontFamily: SERIF, fontSize: 11, fill: '#000', verticalAlign: 'top', lineHeight: 12 },
        },
      },
    });
  });

  return {
    animation: false,
    backgroundColor: '#ffffff',
    grid, xAxis, yAxis,
    legend: {
      data: legendNames, left: 383, top: 3, orient: 'horizontal', selectedMode: false,
      icon: 'rect', itemWidth: 42, itemHeight: 4, itemGap: 37,
      padding: [8, 7, 8, 5],
      borderColor: '#cccccc', borderWidth: 1, borderRadius: 4, backgroundColor: '#ffffff',
      formatter: (n: string) => (n === 'DDPG' ? '{m|DDPG}' : '{m|DDPG+PModL}{s|' + n + '}'),
      textStyle: {
        padding: [0, 0, 0, 8],
        rich: {
          m: { fontFamily: SERIF, fontSize: 18.5, color: '#000', lineHeight: 20 },
          s: { fontFamily: SANS, fontSize: 13.5, color: '#000', verticalAlign: 'bottom', lineHeight: 13 },
        },
      },
    },
    graphic,
    series: [...bands, ...lines],
  };
}

export default function App() {
  const ref = useRef<HTMLDivElement>(null);
  useEffect(() => {
    if (!ref.current) return;
    const chart = echarts.init(ref.current, undefined, { renderer: 'svg' });
    chart.setOption(buildOption() as any);
    return () => chart.dispose();
  }, []);
  return <div ref={ref} style={{ position: 'absolute', left: 0, top: 0, width: 1376, height: 504 }} />;
}
